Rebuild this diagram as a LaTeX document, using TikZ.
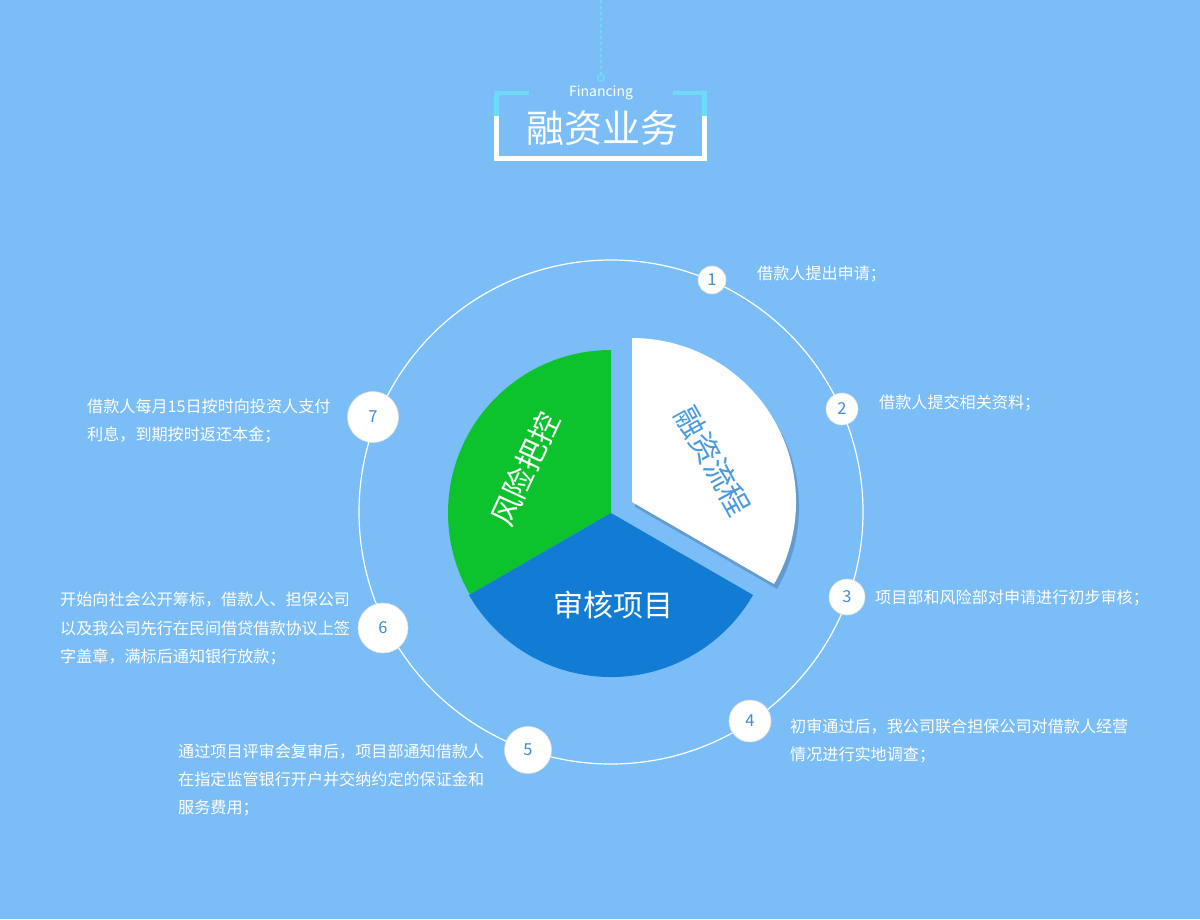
\documentclass[tikz,border=0pt]{standalone}
\usepackage{fontspec}
\newfontfamily\cjk{Noto Sans CJK SC}
\usepackage{tikz}
\usetikzlibrary{positioning}
\usepackage{xcolor}
\definecolor{bgblue}{RGB}{123,189,246}
\definecolor{framecyan}{RGB}{110,218,245}
\definecolor{piegreen}{RGB}{13,195,45}
\definecolor{pieblue}{RGB}{18,124,212}
\definecolor{pieshadow}{RGB}{100,155,206}
\definecolor{numblue}{RGB}{62,140,214}
\definecolor{flowblue}{RGB}{74,152,222}

\begin{document}
\begin{tikzpicture}[
    x=1pt, y=1pt,
    numdot/.style={circle, fill=white, draw=white!88!black, line width=0.6pt, inner sep=0pt, text=numblue, font=\cjk\fontsize{16.5}{16.5}\selectfont},
    steptext/.style={anchor=west, align=left, inner sep=0pt, text=white, font=\cjk\fontsize{16.1}{28.4}\selectfont},
    bigtext/.style={inner sep=0pt, text=white, font=\cjk\fontsize{30}{30}\selectfont},
]
    \fill[bgblue] (0,0) rectangle (1200,-919);
    \useasboundingbox (0,0) rectangle (1200,-919);
    \coordinate (top) at (601,0);
    \node[circle, draw=framecyan, line width=1.6pt, minimum size=6.5pt, inner sep=0pt] (dot) at (601,-78) {};
    \draw[framecyan, line width=1.4pt, dash pattern=on 3pt off 3pt] (top) -- (dot);
    \draw[framecyan, line width=4.5pt] (496.5,-115.5) -- (496.5,-93) -- (529,-93);
    \draw[framecyan, line width=4.5pt] (673,-93) -- (704.5,-93) -- (704.5,-115.5);
    \draw[white, line width=4.5pt] (496.5,-115.5) -- (496.5,-158.5) -- (704.5,-158.5) -- (704.5,-115.5);
    \node[text=white, font=\cjk\fontsize{14}{14}\selectfont] (fin) at (601,-92.5) {Financing};
    \node[bigtext, font=\cjk\fontsize{38}{38}\selectfont] (title) at (602,-128) {融资业务};
    \draw[white, line width=1.2pt] (611,-512) circle[radius=252];
    \fill[piegreen] (611,-513) -- ++(90:163) arc[start angle=90, end angle=210, radius=163] -- cycle;
    \fill[pieblue] (611,-513) -- ++(210:164) arc[start angle=210, end angle=330, radius=164] -- cycle;
    \fill[pieshadow] (635,-507) -- ++(-30:164) arc[start angle=-30, end angle=90, radius=164] -- cycle;
    \fill[white] (632,-502) -- ++(-30:164) arc[start angle=-30, end angle=90, radius=164] -- cycle;
    \node[bigtext, rotate=65] (risk) at (525,-469) {风险把控};
    \node[bigtext, text=flowblue, rotate=-61] (flow) at (713,-461) {融资流程};
    \node[bigtext] (audit) at (613,-605) {审核项目};
    \foreach \i/\x/\y/\d in {1/712/280/28, 2/842/409/32, 3/847/597/36, 4/750/721/42, 5/528/750/47, 6/383/628/50, 7/373/417/51} {
        \node[numdot, minimum size=\d] (n\i) at (\x,-\y) {\i};
    }
    \node[steptext] (t1) at (757,-274) {借款人提出申请；};
    \node[steptext] (t2) at (879,-403) {借款人提交相关资料；};
    \node[steptext] (t3) at (875,-598) {项目部和风险部对申请进行初步审核；};
    \node[steptext] (t4) at (790,-741) {初审通过后，我公司联合担保公司对借款人经营\\情况进行实地调查；};
    \node[steptext] (t5) at (178,-780) {通过项目评审会复审后，项目部通知借款人\\在指定监管银行开户并交纳约定的保证金和\\服务费用；};
    \node[steptext] (t6) at (60,-628.5) {开始向社会公开筹标，借款人、担保公司\\以及我公司先行在民间借贷借款协议上签\\字盖章，满标后通知银行放款；};
    \node[steptext] (t7) at (87,-421) {借款人每月15日按时向投资人支付\\利息，到期按时返还本金；};
\end{tikzpicture}
\end{document}
